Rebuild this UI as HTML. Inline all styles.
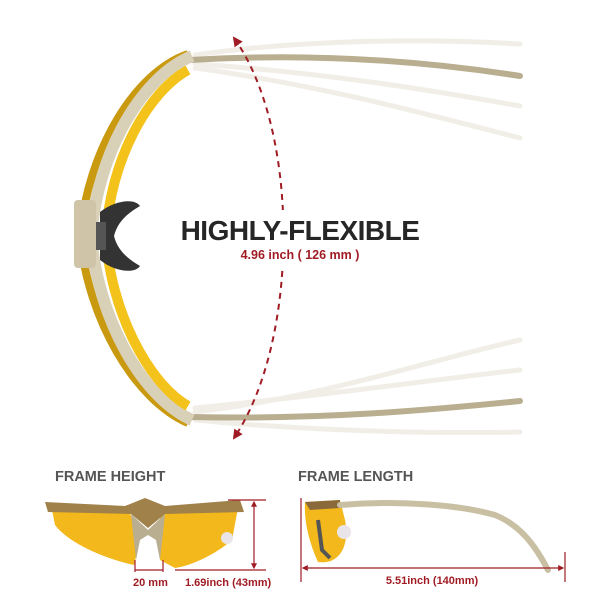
<!DOCTYPE html>
<html><head><meta charset="utf-8"><style>
html,body{margin:0;padding:0;background:#fff;}
svg{display:block;font-family:"Liberation Sans",Arial,sans-serif;}
</style></head><body>
<svg width="600" height="600" viewBox="0 0 600 600" xmlns="http://www.w3.org/2000/svg">
<defs>
<marker id="ar" viewBox="0 0 10 10" refX="8" refY="5" markerWidth="5" markerHeight="5" orient="auto-start-reverse"><path d="M0,0 L10,5 L0,10 z" fill="#a01c24"/></marker>
</defs>
<g fill="none" stroke="#f1eee7" stroke-width="5" stroke-linecap="round">
<path d="M195,55 C300,40 420,38 520,44"/>
<path d="M195,64 C320,72 430,90 520,106"/>
<path d="M195,68 C320,85 430,115 520,138"/>
<path d="M195,412 C320,398 430,360 520,340"/>
<path d="M195,408 C320,396 430,380 520,370"/>
<path d="M195,420 C300,430 420,434 520,432"/>
</g>
<g fill="none" stroke="#b9ae90" stroke-width="6" stroke-linecap="round">
<path d="M190,60 C320,52 430,62 520,76"/>
<path d="M190,417 C320,420 430,410 520,401"/>
</g>
<path d="M188,54 C135,72 88,150 80,236 C88,320 135,400 188,423" fill="none" stroke="#c99a10" stroke-width="8"/>
<path d="M192,56 C143,76 98,150 91,236 C98,320 143,398 192,420" fill="none" stroke="#d9d0b8" stroke-width="12"/>
<path d="M188,70 C148,92 110,160 106,236 C110,310 148,383 188,406" fill="none" stroke="#f3c21b" stroke-width="10"/>
<rect x="74" y="200" width="22" height="68" rx="4" fill="#cfc4a8"/>
<path d="M100,212 C115,200 135,198 140,206 C130,212 118,220 114,236 C118,252 130,260 140,266 C135,274 115,272 100,260 Z" fill="#333"/>
<path d="M96,222 h10 v28 h-10z" fill="#555"/>
<path d="M234,38 C300,130 300,340 234,438" fill="none" stroke="#a01c24" stroke-width="2" stroke-dasharray="6,5" marker-start="url(#ar)" marker-end="url(#ar)"/>
<rect x="175" y="210" width="250" height="58" fill="#fff"/>
<text x="300" y="240" text-anchor="middle" font-size="28" font-weight="bold" fill="#262626" letter-spacing="-0.5">HIGHLY-FLEXIBLE</text>
<text x="300" y="259" text-anchor="middle" font-size="12.5" font-weight="bold" fill="#a01c24">4.96 inch ( 126 mm )</text>
<text x="55" y="481" font-size="14.5" font-weight="bold" fill="#555">FRAME HEIGHT</text>
<text x="298" y="481" font-size="14.5" font-weight="bold" fill="#555">FRAME LENGTH</text>
<path d="M52,510 L128,508 L140,540 L134,565 C110,560 70,545 55,525 Z" fill="#f2b81c"/>
<path d="M160,508 L238,508 L232,540 C215,555 190,566 175,568 L160,560 Z" fill="#f2b81c"/>
<path d="M45,502 L125,506 L145,498 L165,506 L240,500 L244,512 L165,514 L148,528 L131,514 L48,512 Z" fill="#a0814a"/>
<path d="M131,514 L148,530 L165,514 L160,560 L156,540 L148,535 L140,540 L136,560 Z" fill="#b9ae90"/>
<circle cx="227" cy="538" r="6" fill="#e8e4e8"/>
<g stroke="#a01c24" stroke-width="1.2" fill="none">
<line x1="228" y1="500" x2="266" y2="500"/>
<line x1="175" y1="570" x2="266" y2="570"/>
<line x1="254" y1="502" x2="254" y2="568" marker-start="url(#ar)" marker-end="url(#ar)"/>
<line x1="135" y1="560" x2="135" y2="572"/>
<line x1="163" y1="560" x2="163" y2="572"/>
<line x1="135" y1="570" x2="163" y2="570"/>
</g>
<text x="133" y="586" font-size="11" font-weight="bold" fill="#a01c24">20 mm</text>
<text x="185" y="586" font-size="11" font-weight="bold" fill="#a01c24">1.69inch (43mm)</text>
<path d="M305,502 L340,500 L345,520 C350,545 340,565 318,562 C308,540 304,520 305,502 Z" fill="#f2b81c"/>
<path d="M305,502 L340,500 L340,508 L310,510 Z" fill="#8a6a3a"/>
<path d="M340,505 C400,500 460,505 495,515 C520,525 535,545 548,570" fill="none" stroke="#c9bfa2" stroke-width="6" stroke-linecap="round"/>
<circle cx="344" cy="532" r="7" fill="#e8e4e8"/>
<path d="M318,520 L322,550 L330,558" fill="none" stroke="#555" stroke-width="4"/>
<g stroke="#a01c24" stroke-width="1.2" fill="none">
<line x1="301" y1="498" x2="301" y2="582"/>
<line x1="565" y1="552" x2="565" y2="582"/>
<line x1="303" y1="568" x2="563" y2="568" marker-start="url(#ar)" marker-end="url(#ar)"/>
</g>
<text x="432" y="584" text-anchor="middle" font-size="11" font-weight="bold" fill="#a01c24">5.51inch (140mm)</text>
</svg>
</body></html>
